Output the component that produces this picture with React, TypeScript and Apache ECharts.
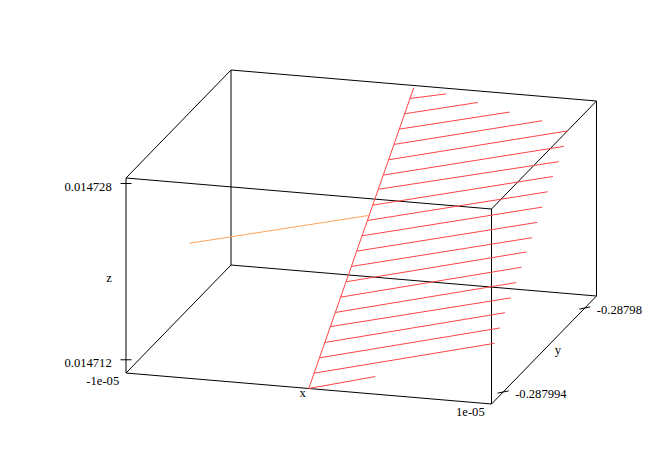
import React, { useEffect, useRef } from "react";
import * as echarts from "echarts";

// ---- axis ranges (data units) ----
const xRange = [-1e-5, 1e-5];
const yRange = [-0.287996, -0.287978];
const zRange = [0.0147108, 0.0147285];

// ---- ticks ----
const xTickValues = [-1e-5, 1e-5];
const xTickLabels = ["-1e-05", "1e-05"];
const yTickValues = [-0.287994, -0.28798];
const yTickLabels = ["-0.287994", "-0.28798"];
const zTickValues = [0.014712, 0.014728];
const zTickLabels = ["0.014712", "0.014728"];

// ---- red spine (x = 0 plane) ----
const spineX = [0, 0];
const spineY = [-0.287996, -0.287978];
const spineZ = [0.0147108, 0.0147283];

// ---- red comb segments: start at x = 0 on the spine, constant y ----
const redXStart = [0, 0, 0, 0, 0, 0, 0, 0, 0, 0, 0, 0, 0, 0, 0, 0, 0, 0, 0, 0];
const redY = [
  -0.287996, -0.2879951, -0.2879942, -0.2879933, -0.2879923, -0.2879914, -0.2879905,
  -0.2879896, -0.2879887, -0.2879878, -0.2879869, -0.287986, -0.2879851, -0.2879841,
  -0.2879832, -0.2879823, -0.2879814, -0.2879805, -0.2879796, -0.2879787,
];
const redZStart = [
  0.0147108, 0.0147117, 0.0147126, 0.0147135, 0.0147144, 0.0147152, 0.0147161,
  0.014717, 0.0147179, 0.0147188, 0.0147197, 0.0147206, 0.0147215, 0.0147224,
  0.0147232, 0.0147241, 0.014725, 0.0147259, 0.0147268, 0.0147277,
];
const redXEnd = [
  3.64e-6, 9.88e-6, 9.88e-6, 9.88e-6, 9.88e-6, 9.88e-6, 9.88e-6, 9.88e-6, 9.88e-6,
  9.88e-6, 9.88e-6, 9.88e-6, 9.88e-6, 9.88e-6, 9.88e-6, 9.8e-6, 8.12e-6, 6.04e-6,
  4.02e-6, 2.0e-6,
];
const redZEnd = [
  0.0147124, 0.0147158, 0.0147167, 0.0147176, 0.0147184, 0.0147193, 0.0147202,
  0.0147211, 0.0147219, 0.0147228, 0.0147237, 0.0147246, 0.0147255, 0.0147263,
  0.0147272, 0.0147281, 0.0147283, 0.0147283, 0.0147284, 0.0147284,
];

// ---- orange segment ----
const orangeX = [-0.98e-5, 0];
const orangeY = [-0.2879857, -0.2879857];
const orangeZ = [0.014717, 0.0147209];

// ---- projection layout (pixels) ----
const ORIGIN = [126, 373];
const AX = [365.5, 31];
const AY = [105, -108];
const AZ = [0, -195];

function proj(x: number, y: number, z: number): [number, number] {
  const t = (x - xRange[0]) / (xRange[1] - xRange[0]);
  const s = (y - yRange[0]) / (yRange[1] - yRange[0]);
  const u = (z - zRange[0]) / (zRange[1] - zRange[0]);
  return [
    ORIGIN[0] + t * AX[0] + s * AY[0] + u * AZ[0],
    ORIGIN[1] + t * AX[1] + s * AY[1] + u * AZ[1],
  ];
}

const W = 659;
const H = 462;
const FONT = "Liberation Serif";
const FS = 12.6;

export default function App() {
  const ref = useRef<HTMLDivElement>(null);

  useEffect(() => {
    if (!ref.current) return;
    const chart = echarts.init(ref.current, undefined, { renderer: "svg" });

    const [x0, x1] = xRange;
    const [y0, y1] = yRange;
    const [z0, z1] = zRange;
    const edges3d: number[][][] = [
      [[x0, y0, z0], [x1, y0, z0]],
      [[x1, y0, z0], [x1, y1, z0]],
      [[x1, y1, z0], [x0, y1, z0]],
      [[x0, y1, z0], [x0, y0, z0]],
      [[x0, y0, z1], [x1, y0, z1]],
      [[x1, y0, z1], [x1, y1, z1]],
      [[x1, y1, z1], [x0, y1, z1]],
      [[x0, y1, z1], [x0, y0, z1]],
      [[x0, y0, z0], [x0, y0, z1]],
      [[x1, y0, z0], [x1, y0, z1]],
      [[x1, y1, z0], [x1, y1, z1]],
      [[x0, y1, z0], [x0, y1, z1]],
    ];
    const boxData = edges3d.map((e) => ({
      coords: e.map((p) => proj(p[0], p[1], p[2])),
    }));

    const tickData: any[] = [];
    zTickValues.forEach((z) => {
      const p = proj(x0, y0, z);
      tickData.push({ coords: [[p[0] - 5.5, p[1]], [p[0] + 5.5, p[1]]] });
    });
    yTickValues.forEach((y) => {
      const p = proj(x1, y, z0);
      tickData.push({ coords: [[p[0] - 5.5, p[1] + 1.1], [p[0] + 5.5, p[1] - 1.1]] });
    });

    const redData: any[] = [
      { coords: spineX.map((x, i) => proj(x, spineY[i], spineZ[i])) },
    ];
    redY.forEach((y, i) => {
      redData.push({
        coords: [proj(redXStart[i], y, redZStart[i]), proj(redXEnd[i], y, redZEnd[i])],
      });
    });

    const orangeData = [
      { coords: orangeX.map((x, i) => proj(x, orangeY[i], orangeZ[i])) },
    ];

    const texts: any[] = [];
    const addText = (
      text: string,
      p: [number, number],
      dx: number,
      dy: number,
      align: string
    ) => {
      texts.push({
        type: "text",
        x: p[0] + dx,
        y: p[1] + dy,
        silent: true,
        style: {
          text,
          fill: "#000",
          fontFamily: FONT,
          fontSize: FS,
          align,
          verticalAlign: "middle",
        },
      });
    };
    zTickValues.forEach((z, i) => addText(zTickLabels[i], proj(x0, y0, z), -14.3, 3.5, "right"));
    xTickValues.forEach((x, i) => addText(xTickLabels[i], proj(x, y0, z0), -6.8, 8, "right"));
    yTickValues.forEach((y, i) => addText(yTickLabels[i], proj(x1, y, z0), 12, 1.5, "left"));
    addText("x", proj((x0 + x1) / 2, y0, z0), -6, 4, "center");
    addText("y", proj(x1, (y0 + y1) / 2, z0), 14, 0, "center");
    addText("z", proj(x0, y0, (z0 + z1) / 2), -17, 2.5, "center");

    const lineSeries = (data: any[], color: string, width: number) => ({
      type: "lines",
      coordinateSystem: "cartesian2d",
      xAxisIndex: 0,
      yAxisIndex: 0,
      polyline: true,
      silent: true,
      data,
      lineStyle: { color, width, opacity: 1, type: "solid" },
      effect: { show: false },
    });

    chart.setOption({
      animation: false,
      backgroundColor: "#ffffff",
      grid: { left: 0, right: 0, top: 0, bottom: 0, containLabel: false },
      xAxis: { type: "value", min: 0, max: W, show: false },
      yAxis: { type: "value", min: 0, max: H, inverse: true, show: false },
      series: [
        lineSeries(boxData, "#000000", 1),
        lineSeries(tickData, "#000000", 1),
        lineSeries(redData, "#ff4545", 1),
        lineSeries(orangeData, "#ffa355", 1),
      ],
      graphic: texts,
    });

    return () => chart.dispose();
  }, []);

  return (
    <div
      ref={ref}
      style={{ position: "absolute", left: 0, top: 0, width: W, height: H, background: "#fff" }}
    />
  );
}
